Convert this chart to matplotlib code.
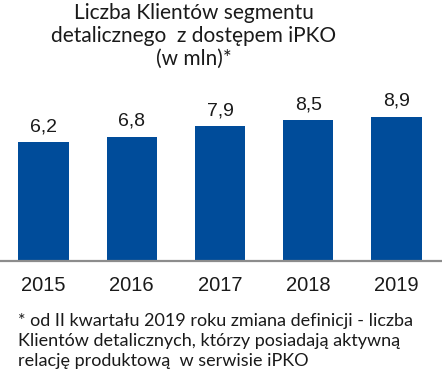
import numpy as np
import matplotlib
matplotlib.use("Agg")
import matplotlib.pyplot as plt

years = ["2015", "2016", "2017", "2018", "2019"]
values = [6.2, 6.8, 7.9, 8.5, 8.9]
value_labels = ["6,2", "6,8", "7,9", "8,5", "8,9"]
title = "Liczba Klientów segmentu\ndetalicznego  z dostępem iPKO\n(w mln)*"
footnote = ("* od II kwartału 2019 roku zmiana definicji - liczba\n"
            "Klientów detalicznych, którzy posiadają aktywną\n"
            "relację produktową  w serwisie iPKO")

W, H = 442, 376
fig = plt.figure(figsize=(W / 100, H / 100), dpi=100)
ax = fig.add_axes([0, (H - 261) / H, 1, (261 - 100) / H])

Y0 = -6.4
YTOP = 10.67
x = np.arange(len(years))
vals = np.array(values)
ax.bar(x, vals - Y0, bottom=Y0, width=0.57, color="#004c9a")
ax.set_ylim(Y0, YTOP)
ax.set_xlim(-0.493, 4.516)

for xi, v, lab in zip(x, values, value_labels):
    ax.annotate(lab, (xi, v), xytext=(0, 8), textcoords="offset points",
                ha="center", va="baseline", fontsize=14,
                family="Liberation Sans", color="#1a1a1a")

for s in ["top", "left", "right"]:
    ax.spines[s].set_visible(False)
ax.spines["bottom"].set_color("#8c8c8c")
ax.spines["bottom"].set_linewidth(1.6)
ax.set_yticks([])
ax.set_xticks(x)
ax.set_xticklabels(years, fontsize=14.5, family="Liberation Sans", color="#1a1a1a")
ax.tick_params(axis="x", length=0, pad=11)

fig.text(194 / W, 1 - 3 / H, title, ha="center", va="top", fontsize=15,
         family="Lato", color="#1a1a1a", linespacing=1.18)
fig.text(18 / W, 1 - 313 / H, footnote, ha="left", va="top", fontsize=13,
         family="Lato", color="#1a1a1a", linespacing=1.3)

fig.savefig("out.png", dpi=100)
